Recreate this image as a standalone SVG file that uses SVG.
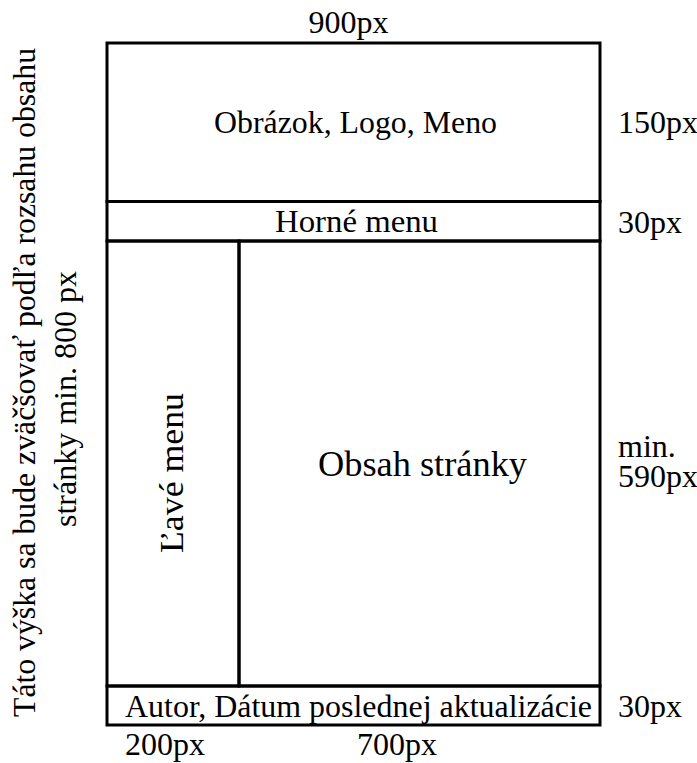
<svg xmlns="http://www.w3.org/2000/svg" width="697" height="763" viewBox="0 0 697 763" font-family="'Liberation Serif', 'Times New Roman', serif" font-size="32">
<style>
.b{fill:none;stroke:#000;stroke-width:3;}
</style>
<rect x="0" y="0" width="697" height="763" fill="#fff"/>
<g id="header"><rect class="b" x="107" y="43" width="493" height="158.5"/><text font-family="Liberation Serif" x="355.5" y="133" text-anchor="middle" textLength="283" lengthAdjust="spacingAndGlyphs">Obrázok, Logo, Meno</text></g>
<g id="topmenu"><rect class="b" x="107" y="201.5" width="493" height="39.5"/><text font-family="Liberation Serif" x="356.5" y="232" text-anchor="middle" textLength="163" lengthAdjust="spacingAndGlyphs">Horné menu</text></g>
<g id="leftmenu"><rect class="b" x="107" y="241" width="132" height="445"/><text font-family="Liberation Serif" font-size="34" text-anchor="middle" transform="translate(183,473) rotate(-90)" textLength="160" lengthAdjust="spacingAndGlyphs">Ľavé menu</text></g>
<g id="content"><rect class="b" x="239" y="241" width="361" height="445"/><text font-family="Liberation Serif" x="422.5" y="476" text-anchor="middle" font-size="36" textLength="209" lengthAdjust="spacingAndGlyphs">Obsah stránky</text></g>
<g id="footer"><rect class="b" x="107" y="686" width="493" height="39"/><text font-family="Liberation Serif" x="358.5" y="717" text-anchor="middle" textLength="467" lengthAdjust="spacingAndGlyphs">Autor, Dátum poslednej aktualizácie</text></g>
<g id="labels" font-family="Liberation Serif">
<text x="348.5" y="33" text-anchor="middle">900px</text>
<text x="618" y="133">150px</text>
<text x="618" y="233">30px</text>
<text x="618" y="457">min.</text>
<text x="618" y="487">590px</text>
<text x="618" y="717">30px</text>
<text x="165" y="755" text-anchor="middle">200px</text>
<text x="397" y="755" text-anchor="middle">700px</text>
<text text-anchor="middle" transform="translate(35,382.5) rotate(-90)" textLength="669" lengthAdjust="spacingAndGlyphs">Táto výška sa bude zväčšovať podľa rozsahu obsahu</text>
<text text-anchor="middle" transform="translate(76,399) rotate(-90)">stránky min. 800 px</text>
</g>
</svg>
